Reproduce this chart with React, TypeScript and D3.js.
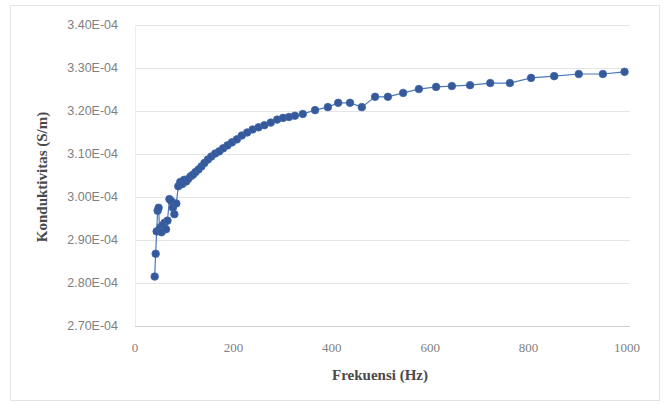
import React, { useEffect, useRef } from "react";
import * as d3 from "d3";

// frequency (Hz) and conductivity (S/m)
const frekuensi = [
  40, 42, 44, 46, 48, 50, 52, 54, 57, 60, 63, 66, 70, 74, 77, 80, 84, 88, 92, 96,
  100, 104, 108, 113, 118, 123, 129, 135, 141, 148, 155, 163, 171, 179, 188, 197,
  207, 217, 228, 239, 251, 263, 276, 289, 301, 313, 325, 341, 366, 392, 413, 437,
  461, 488, 514, 545, 577, 612, 644, 681, 722, 762, 805, 852, 902, 951, 995,
];
const konduktivitas = [
  2.815e-4, 2.868e-4, 2.92e-4, 2.968e-4, 2.975e-4, 2.925e-4, 2.93e-4, 2.918e-4, 2.935e-4, 2.94e-4,
  2.925e-4, 2.945e-4, 2.995e-4, 2.99e-4, 2.975e-4, 2.96e-4, 2.985e-4, 3.025e-4, 3.035e-4, 3.03e-4,
  3.04e-4, 3.036e-4, 3.042e-4, 3.048e-4, 3.052e-4, 3.058e-4, 3.064e-4, 3.071e-4, 3.079e-4, 3.087e-4,
  3.094e-4, 3.101e-4, 3.106e-4, 3.113e-4, 3.12e-4, 3.127e-4, 3.134e-4, 3.143e-4, 3.15e-4, 3.157e-4,
  3.162e-4, 3.167e-4, 3.173e-4, 3.18e-4, 3.184e-4, 3.186e-4, 3.189e-4, 3.193e-4, 3.202e-4, 3.209e-4,
  3.219e-4, 3.219e-4, 3.209e-4, 3.233e-4, 3.233e-4, 3.242e-4, 3.251e-4, 3.256e-4, 3.258e-4, 3.26e-4,
  3.265e-4, 3.265e-4, 3.277e-4, 3.281e-4, 3.286e-4, 3.286e-4, 3.291e-4,
];
const yTicks = [2.7e-4, 2.8e-4, 2.9e-4, 3.0e-4, 3.1e-4, 3.2e-4, 3.3e-4, 3.4e-4];
const xTicks = [0, 200, 400, 600, 800, 1000];

export default function App() {
  const ref = useRef<SVGSVGElement>(null);

  useEffect(() => {
    const width = 668;
    const height = 405;
    const left = 135, right = 627, top = 25, bottom = 326;

    const svg = d3.select(ref.current);
    svg.selectAll("*").remove();

    const data = frekuensi.map((f, i) => ({ f, k: konduktivitas[i] }));

    const x = d3.scaleLinear().domain([0, 1000]).range([left, right]);
    const y = d3.scaleLinear().domain([2.7e-4, 3.4e-4]).range([bottom, top]);

    svg.append("rect").attr("width", width).attr("height", height).attr("fill", "#fff");
    svg.append("rect")
      .attr("x", 10.5).attr("y", 5.5)
      .attr("width", 649).attr("height", 395)
      .attr("fill", "none").attr("stroke", "#e3e3e3");

    // gridlines
    svg.append("g")
      .selectAll("line")
      .data(yTicks)
      .join("line")
      .attr("x1", left).attr("x2", right + 3)
      .attr("y1", (d) => Math.round(y(d)) + 0.5)
      .attr("y2", (d) => Math.round(y(d)) + 0.5)
      .attr("stroke", (d, i) => (i === 0 ? "#d0d0d0" : "#e4e4e4"));

    svg.append("line")
      .attr("x1", left + 0.5).attr("x2", left + 0.5)
      .attr("y1", top).attr("y2", bottom)
      .attr("stroke", "#ececec");

    // y tick labels
    svg.append("g")
      .selectAll("text")
      .data(yTicks)
      .join("text")
      .attr("x", 118)
      .attr("y", (d) => y(d))
      .attr("dy", "0.35em")
      .attr("text-anchor", "end")
      .attr("font-family", "Liberation Sans, Arial, sans-serif")
      .attr("font-size", 12.5)
      .attr("fill", "#808080")
      .text((d) => d.toExponential(2).toUpperCase().replace("E-4", "E-04"));

    // x tick labels
    svg.append("g")
      .selectAll("text")
      .data(xTicks)
      .join("text")
      .attr("x", (d) => x(d))
      .attr("y", 352)
      .attr("text-anchor", "middle")
      .attr("font-family", "Liberation Serif, Times New Roman, serif")
      .attr("font-size", 13)
      .attr("fill", "#808080")
      .text((d) => d);

    // series line + markers
    const line = d3.line<{ f: number; k: number }>()
      .x((d) => x(d.f))
      .y((d) => y(d.k));

    svg.append("path")
      .datum(data)
      .attr("d", line)
      .attr("fill", "none")
      .attr("stroke", "#4a78b8")
      .attr("stroke-width", 1.2);

    svg.append("g")
      .selectAll("circle")
      .data(data)
      .join("circle")
      .attr("cx", (d) => x(d.f))
      .attr("cy", (d) => y(d.k))
      .attr("r", 3.8)
      .attr("fill", "#36599a")
      .attr("stroke", "#3d67ab")
      .attr("stroke-width", 0.8);

    // titles
    svg.append("text")
      .attr("x", 380)
      .attr("y", 380)
      .attr("text-anchor", "middle")
      .attr("font-family", "Liberation Serif, Times New Roman, serif")
      .attr("font-weight", "bold")
      .attr("font-size", 15)
      .attr("fill", "#4a4a4a")
      .text("Frekuensi (Hz)");

    svg.append("text")
      .attr("transform", "translate(47,177) rotate(-90)")
      .attr("text-anchor", "middle")
      .attr("font-family", "Liberation Serif, Times New Roman, serif")
      .attr("font-weight", "bold")
      .attr("font-size", 15)
      .attr("fill", "#4a4a4a")
      .text("Konduktivitas  (S/m)");
  }, []);

  return (
    <svg
      ref={ref}
      width={668}
      height={405}
      style={{ position: "absolute", left: 0, top: 0 }}
    />
  );
}
